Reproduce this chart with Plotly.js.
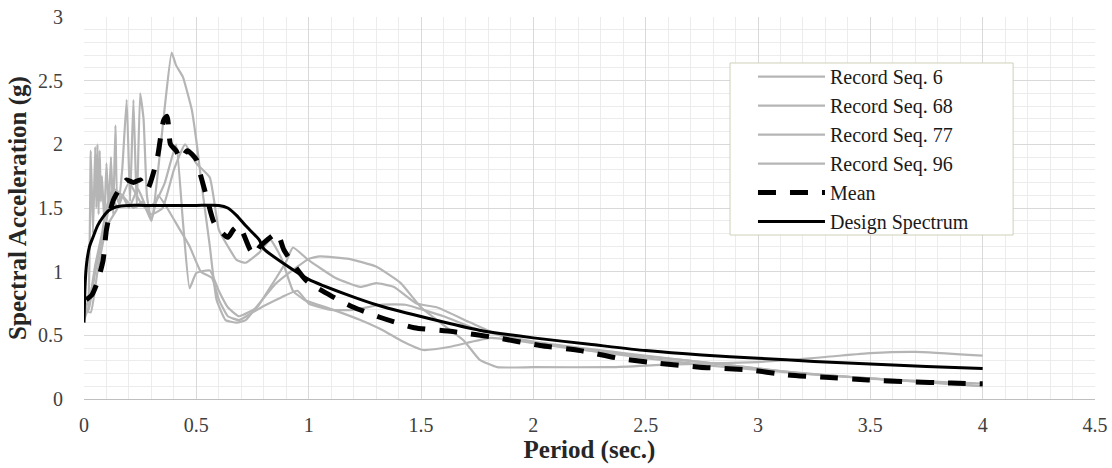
<!DOCTYPE html>
<html>
<head>
<meta charset="utf-8">
<script src="https://cdn.plot.ly/plotly-3.0.1.min.js"></script>
<style>html,body{margin:0;padding:0;background:#fff;}#chart{width:1112px;height:468px;}</style>
</head>
<body>
<div id="chart"></div>
<script>
// ---- data ----
var seriesNames = ["Record Seq. 6", "Record Seq. 68", "Record Seq. 77", "Record Seq. 96", "Mean", "Design Spectrum"];

var periodRec6 = [0, 0.02, 0.03, 0.04, 0.05, 0.055, 0.06, 0.065, 0.07, 0.075, 0.08, 0.09, 0.1, 0.11, 0.12, 0.13, 0.14, 0.15, 0.17, 0.2, 0.24, 0.28, 0.32, 0.36, 0.41, 0.44, 0.47, 0.5, 0.56, 0.6, 0.64, 0.69, 0.77, 0.83, 0.9, 0.93, 1.0, 1.12, 1.23, 1.3, 1.38, 1.48, 1.57, 1.72, 1.85, 2.0, 2.3, 2.7, 3.1, 3.5, 4.0];
var saRec6     = [0.65, 0.8, 1.95, 1.3, 1.98, 1.5, 2.0, 1.45, 1.95, 1.55, 1.75, 1.4, 1.85, 1.5, 1.9, 1.45, 2.15, 1.55, 1.6, 1.5, 1.65, 1.5, 1.55, 1.7, 2.0, 1.4, 0.87, 0.99, 1.01, 0.85, 0.72, 0.65, 0.72, 0.88, 1.08, 1.19, 1.09, 0.95, 0.88, 0.91, 0.88, 0.75, 0.72, 0.6, 0.5, 0.44, 0.37, 0.3, 0.22, 0.16, 0.12];

var periodRec68 = [0, 0.02, 0.05, 0.08, 0.1, 0.12, 0.15, 0.17, 0.19, 0.205, 0.22, 0.235, 0.25, 0.265, 0.28, 0.3, 0.33, 0.37, 0.42, 0.47, 0.52, 0.57, 0.6, 0.64, 0.69, 0.75, 0.8, 0.88, 0.95, 1.0, 1.1, 1.2, 1.32, 1.43, 1.6, 1.76, 2.0, 2.4, 2.8, 3.2, 3.6, 4.0];
var saRec68     = [0.68, 0.7, 1.0, 1.25, 1.4, 1.6, 1.5, 1.8, 2.35, 1.55, 2.35, 1.5, 2.4, 2.2, 1.6, 1.4, 1.6, 1.5, 1.35, 1.2, 1.0, 0.95, 0.78, 0.65, 0.62, 0.68, 0.73, 0.8, 0.85, 0.75, 0.7, 0.7, 0.74, 0.74, 0.65, 0.54, 0.45, 0.36, 0.28, 0.2, 0.15, 0.1];

var periodRec77 = [0, 0.02, 0.05, 0.08, 0.1, 0.13, 0.17, 0.22, 0.26, 0.3, 0.33, 0.36, 0.39, 0.41, 0.44, 0.48, 0.5, 0.53, 0.56, 0.59, 0.63, 0.68, 0.72, 0.78, 0.85, 0.92, 1.0, 1.05, 1.18, 1.3, 1.41, 1.5, 1.6, 1.69, 1.76, 1.84, 2.0, 2.35, 2.6, 3.0, 3.3, 3.5, 3.7, 4.0];
var saRec77     = [0.62, 0.72, 1.05, 1.3, 1.5, 1.65, 1.6, 1.5, 1.55, 1.4, 1.8, 2.3, 2.72, 2.62, 2.53, 2.27, 2.03, 1.6, 1.2, 0.78, 0.62, 0.6, 0.62, 0.75, 0.9, 1.0, 1.1, 1.12, 1.1, 1.04, 0.91, 0.72, 0.58, 0.46, 0.31, 0.25, 0.25, 0.25, 0.27, 0.29, 0.33, 0.36, 0.37, 0.34];

var periodRec96 = [0, 0.03, 0.06, 0.1, 0.15, 0.2, 0.25, 0.3, 0.35, 0.4, 0.45, 0.5, 0.56, 0.6, 0.64, 0.68, 0.72, 0.78, 0.83, 0.88, 0.93, 0.98, 1.11, 1.23, 1.33, 1.41, 1.51, 1.63, 1.81, 2.0, 2.25, 2.5, 2.8, 3.2, 3.6, 4.0];
var saRec96     = [0.7, 0.68, 1.0, 1.35, 1.5, 1.7, 1.55, 1.45, 1.5, 1.8, 2.0, 1.85, 1.74, 1.33, 1.2, 1.09, 1.07, 1.15, 1.25, 1.1, 0.85, 0.78, 0.7, 0.62, 0.54, 0.46, 0.385, 0.41, 0.48, 0.44, 0.38, 0.32, 0.26, 0.2, 0.15, 0.1];

var periodMean = [0.01, 0.036, 0.06, 0.085, 0.1, 0.13, 0.165, 0.19, 0.22, 0.25, 0.28, 0.325, 0.355, 0.37, 0.385, 0.41, 0.43, 0.46, 0.5, 0.52, 0.55, 0.58, 0.64, 0.665, 0.69, 0.74, 0.76, 0.78, 0.86, 0.89, 0.99, 1.11, 1.2, 1.32, 1.47, 1.64, 1.84, 2.03, 2.21, 2.38, 2.56, 2.74, 2.95, 3.13, 3.3, 3.49, 3.67, 3.86, 4.0];
var saMean     = [0.78, 0.82, 0.92, 1.09, 1.33, 1.56, 1.67, 1.72, 1.7, 1.72, 1.64, 1.88, 2.19, 2.22, 2.0, 1.95, 1.88, 1.95, 1.88, 1.75, 1.56, 1.38, 1.27, 1.33, 1.36, 1.17, 1.13, 1.19, 1.3, 1.17, 0.93, 0.8, 0.72, 0.64, 0.56, 0.53, 0.48, 0.42, 0.38, 0.32, 0.28, 0.25, 0.23, 0.19, 0.17, 0.15, 0.135, 0.125, 0.12];

var periodDesign = [0, 0.005, 0.012, 0.025, 0.04, 0.06, 0.085, 0.11, 0.145, 0.2, 0.3, 0.4, 0.5, 0.6, 0.64, 0.68, 0.72, 0.78, 0.8, 0.9, 1.0, 1.17, 1.32, 1.54, 1.76, 2.0, 2.25, 2.5, 2.75, 3.0, 3.25, 3.5, 3.75, 4.0];
var saDesign     = [0.6, 0.9, 1.07, 1.2, 1.27, 1.36, 1.43, 1.48, 1.51, 1.52, 1.52, 1.52, 1.52, 1.52, 1.5, 1.44, 1.36, 1.25, 1.18, 1.05, 0.94, 0.82, 0.73, 0.63, 0.54, 0.48, 0.43, 0.38, 0.345, 0.32, 0.295, 0.275, 0.255, 0.24];

var xTickVals = [0, 0.5, 1, 1.5, 2, 2.5, 3, 3.5, 4, 4.5];
var xTickText = ["0", "0.5", "1", "1.5", "2", "2.5", "3", "3.5", "4", "4.5"];
var yTickVals = [0, 0.5, 1, 1.5, 2, 2.5, 3];
var yTickText = ["0", "0.5", "1", "1.5", "2", "2.5", "3"];

var gray = "#b5b5b5";
function rec(x, y, name) {
  return {x: x, y: y, name: name, type: "scatter", mode: "lines",
          line: {color: gray, width: 2.2, shape: "spline", smoothing: 0.4}};
}
var traces = [
  rec(periodRec6, saRec6, seriesNames[0]),
  rec(periodRec68, saRec68, seriesNames[1]),
  rec(periodRec77, saRec77, seriesNames[2]),
  rec(periodRec96, saRec96, seriesNames[3]),
  {x: periodMean, y: saMean, name: seriesNames[4], type: "scatter", mode: "lines",
   line: {color: "#000", width: 5, dash: "18px,14px", shape: "spline", smoothing: 0.6}},
  {x: periodDesign, y: saDesign, name: seriesNames[5], type: "scatter", mode: "lines",
   line: {color: "#000", width: 3, shape: "spline", smoothing: 0.6}}
];

var serif = "Liberation Serif, Times New Roman, serif";
var layout = {
  width: 1112, height: 468,
  margin: {l: 84, r: 17, t: 17, b: 69},
  paper_bgcolor: "#fff", plot_bgcolor: "#fff",
  showlegend: true,
  font: {family: serif, color: "#404040", size: 20},
  xaxis: {
    range: [0, 4.5], tickvals: xTickVals, ticktext: xTickText,
    showgrid: true, gridcolor: "#d9d9d9", gridwidth: 1,
    minor: {dtick: 0.1, showgrid: true, gridcolor: "#ececec", gridwidth: 1, ticks: ""},
    zeroline: false, showline: true, linecolor: "#bfbfbf", linewidth: 1,
    ticks: "", ticklabelstandoff: 8, tickfont: {family: serif, size: 20, color: "#404040"},
    title: {text: "<b>Period (sec.)</b>", font: {family: serif, size: 25, color: "#262626"}, standoff: 2}
  },
  yaxis: {
    range: [0, 3], tickvals: yTickVals, ticktext: yTickText,
    showgrid: true, gridcolor: "#d9d9d9", gridwidth: 1,
    minor: {dtick: 0.1, showgrid: true, gridcolor: "#ececec", gridwidth: 1, ticks: ""},
    zeroline: false, showline: false,
    ticks: "", ticklabelstandoff: 20, tickfont: {family: serif, size: 20, color: "#404040"},
    title: {text: "<b>Spectral Acceleration (g)</b>", font: {family: serif, size: 25, color: "#262626"}, standoff: 4}
  },
  shapes: [{
    type: "rect", xref: "paper", yref: "paper", layer: "above",
    x0: 0.639, x1: 0.919, y0: 0.4293, y1: 0.8796,
    fillcolor: "#ffffff", line: {color: "#cfcfb8", width: 1}
  }],
  legend: {
    x: 0.6617, y: 0.895, xanchor: "left", yanchor: "top",
    bgcolor: "rgba(0,0,0,0)", borderwidth: 0,
    font: {family: serif, size: 20, color: "#1a1a1a"},
    itemwidth: 67, tracegroupgap: 0
  }
};
Plotly.newPlot("chart", traces, layout, {displayModeBar: false, staticPlot: true});
</script>
</body>
</html>
